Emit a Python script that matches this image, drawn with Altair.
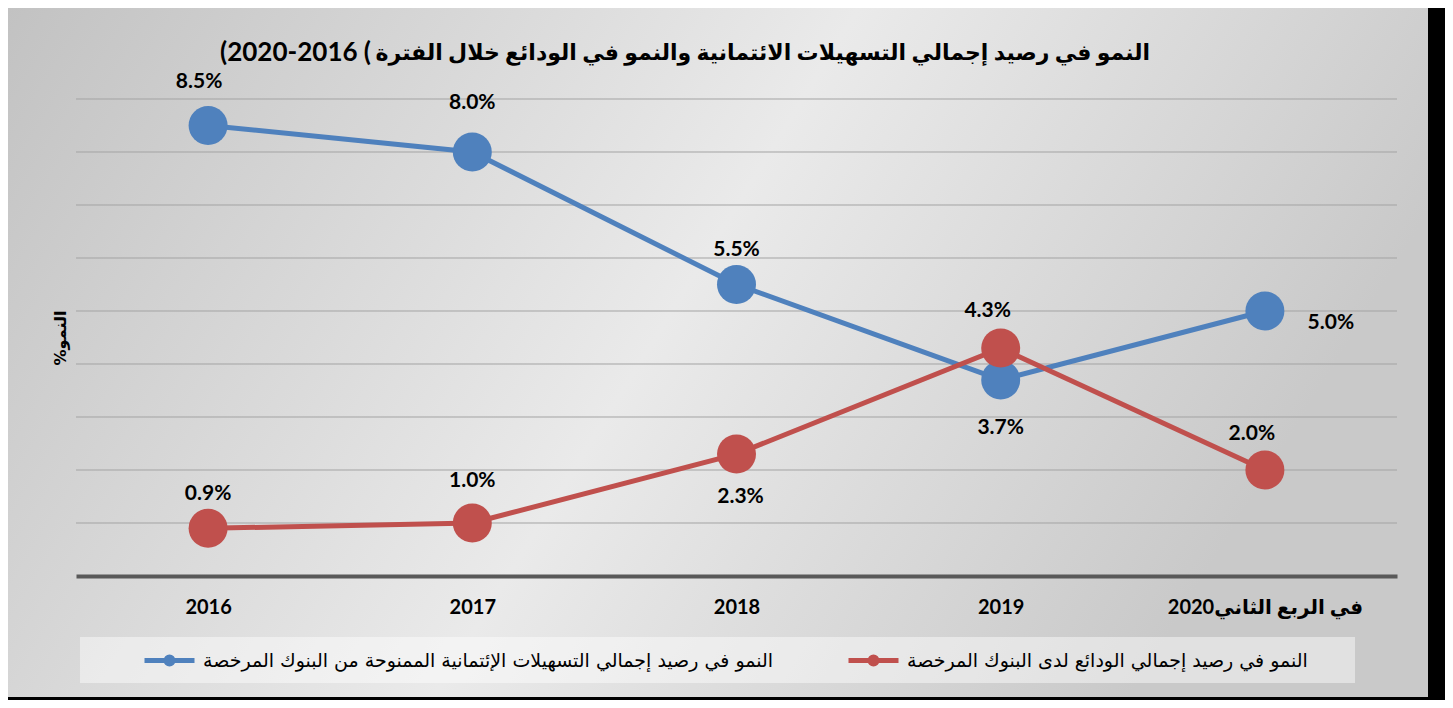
import altair as alt
import pandas as pd

# ---------------- data ----------------
years = ["2016", "2017", "2018", "2019", "في الربع الثاني2020"]
credit_growth = [8.5, 8.0, 5.5, 3.7, 5.0]
deposit_growth = [0.9, 1.0, 2.3, 4.3, 2.0]
series_names = [
    "النمو في رصيد إجمالي التسهيلات  الإئتمانية الممنوحة من البنوك المرخصة",
    "النمو في رصيد إجمالي الودائع لدى البنوك المرخصة",
]
series_colors = ["#4f81bd", "#c0504d"]
title_arabic = "النمو في رصيد إجمالي التسهيلات الائتمانية والنمو في الودائع خلال الفترة"
title_period = "(2020-2016 ("
y_title = "%النمو"
grid_values = [1, 2, 3, 4, 5, 6, 7, 8, 9]

# label placement (dx, dy in px) for each point, per series
label_offsets = {
    series_names[0]: [(-9, -44), (0, -49), (0, -35), (0, 48), (66, 12)],
    series_names[1]: [(0, -34), (0, -42), (4, 43), (-13, -37), (-13, -36)],
}

rows = []
for name, vals in zip(series_names, [credit_growth, deposit_growth]):
    for yr, v in zip(years, vals):
        rows.append({"year": yr, "series": name, "value": v, "label": f"{v:.1f}%"})
df = pd.DataFrame(rows)

W, H = 1321, 477
PAD = {"left": 68, "top": 91, "right": 48, "bottom": 124}

x_enc = alt.X(
    "year:N",
    sort=years,
    scale=alt.Scale(type="point", domain=years, padding=0.5),
    axis=alt.Axis(
        title=None, labelAngle=0, labelFont="Lato, DejaVu Sans", labelFontSize=20,
        labelFontWeight="bold", labelColor="black", labelPadding=21, labelLimit=0,
        ticks=False, tickSize=0, domainColor="#595959", domainWidth=4, grid=False,
        zindex=1,
    ),
)
y_enc = alt.Y(
    "value:Q",
    scale=alt.Scale(domain=[0, 9], nice=False, zero=True),
    axis=alt.Axis(
        title=y_title, labels=False, ticks=False, tickSize=0,
        domain=False, grid=False,
        titleFont="DejaVu Sans", titleFontSize=16, titleFontWeight="bold",
        titleColor="black", titlePadding=8, zindex=1,
    ),
)
legend_symbol = (
    "M-1,0H1"
    "M0.14,0A0.14,0.14,0,1,1,-0.14,0A0.14,0.14,0,1,1,0.14,0Z"
    "M0.06,0A0.06,0.06,0,1,1,-0.06,0A0.06,0.06,0,1,1,0.06,0Z"
)
color_enc = alt.Color(
    "series:N",
    scale=alt.Scale(domain=series_names, range=series_colors),
    legend=alt.Legend(
        title=None, orient="none", legendX=66, legendY=534, direction="horizontal",
        labelFont="DejaVu Sans", labelFontSize=19, labelColor="black", labelLimit=2000,
        symbolType=legend_symbol, symbolSize=2500, symbolStrokeWidth=5,
        columnPadding=58, labelOffset=6, padding=0,
    ),
)

# decorative background panel and legend box
bg = alt.Chart(pd.DataFrame({"k": [0]})).mark_rect(
    fill=alt.LinearGradient(
        gradient="linear",
        stops=[
            alt.GradientStop(color="#c2c2c2", offset=0),
            alt.GradientStop(color="#eaeaea", offset=0.55),
            alt.GradientStop(color="#c9c9c9", offset=1),
        ],
        x1=0, x2=1, y1=0, y2=0.3,
    )
).encode(x=alt.value(-68), x2=alt.value(1352), y=alt.value(-91), y2=alt.value(598))

legend_box = alt.Chart(pd.DataFrame({"k": [0]})).mark_rect(
    fill="#ffffff", opacity=0.45
).encode(x=alt.value(4), x2=alt.value(1279), y=alt.value(538), y2=alt.value(584))

grid = alt.Chart(pd.DataFrame({"value": grid_values})).mark_rule(
    color="#a3a3a3", strokeWidth=1
).encode(y=y_enc, x=alt.value(0), x2=alt.value(W))

title_ar = alt.Chart(pd.DataFrame({"t": [title_arabic]})).mark_text(
    font="Lato, DejaVu Sans", fontSize=22, fontWeight="bold", color="black",
    align="right", baseline="middle",
).encode(x=alt.value(1074), y=alt.value(-46), text="t:N")

title_num = alt.Chart(pd.DataFrame({"t": [title_period]})).mark_text(
    font="Lato", fontSize=26, fontWeight="bold", color="black",
    align="right", baseline="middle",
).encode(x=alt.value(295), y=alt.value(-46), text="t:N")

layers = [bg, legend_box, grid, title_ar, title_num]
for name in series_names:
    sub = alt.Chart(df).transform_filter(alt.FieldEqualPredicate(field="series", equal=name))
    layers.append(sub.mark_line(strokeWidth=5).encode(x=x_enc, y=y_enc, color=color_enc))
    layers.append(sub.mark_circle(size=1520, opacity=1).encode(x=x_enc, y=y_enc, color=color_enc))

for name in series_names:
    for yr, (dx, dy) in zip(years, label_offsets[name]):
        layers.append(
            alt.Chart(df)
            .transform_filter(alt.FieldEqualPredicate(field="series", equal=name))
            .transform_filter(alt.FieldEqualPredicate(field="year", equal=yr))
            .mark_text(dx=dx, dy=dy, font="Lato", fontSize=21, fontWeight="bold",
                       color="black", align="center", baseline="middle")
            .encode(x=x_enc, y=y_enc, text="label:N")
        )

chart = (
    alt.layer(*layers)
    .properties(width=W, height=H, autosize=alt.AutoSizeParams(type="none"), padding=PAD)
    .configure(background="#000000")
    .configure_view(stroke=None)
)

chart.save("out.html", embed_options={"renderer": "svg", "actions": False})
